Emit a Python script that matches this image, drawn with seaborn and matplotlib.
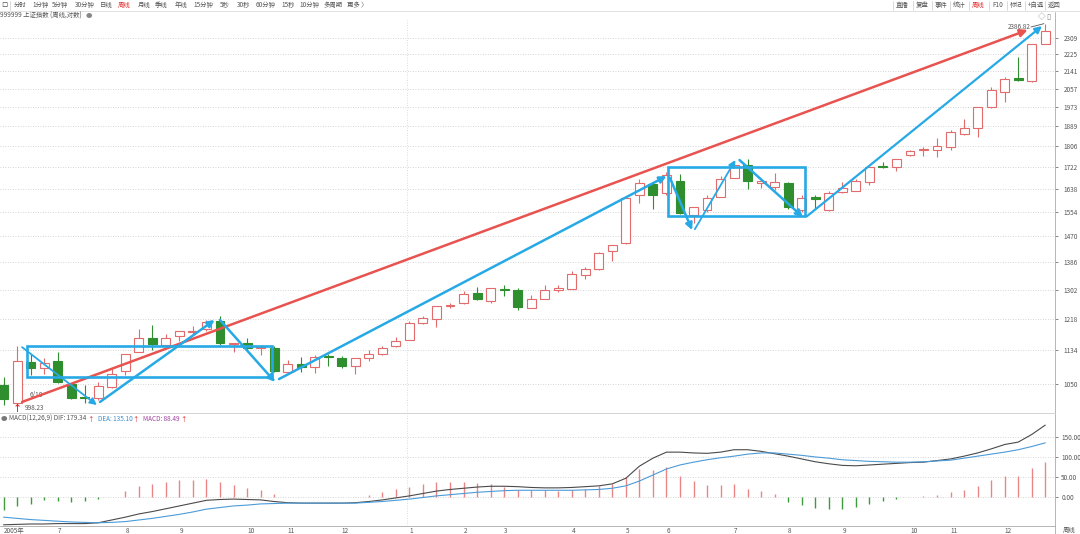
import matplotlib
matplotlib.use("Agg")
import matplotlib.pyplot as plt
from matplotlib.patches import Rectangle
from matplotlib.lines import Line2D
from matplotlib.ticker import NullLocator, FixedLocator
import numpy as np
import pandas as pd
import seaborn as sns

# weekly candles, 上证指数 (2005-06 .. 2006-12)
opens = [1048, 1005, 1105, 1088, 1106, 1050, 1020, 1018, 1043, 1081,
         1129, 1165, 1147, 1172, 1182, 1190, 1213, 1149, 1152, 1140,
         1141, 1079, 1099, 1091, 1119, 1115, 1094, 1113, 1125, 1144,
         1162, 1208, 1218, 1255, 1262, 1293, 1270, 1305, 1302, 1248,
         1273, 1302, 1305, 1346, 1365, 1422, 1448, 1615, 1656, 1622,
         1667, 1543, 1560, 1608, 1679, 1730, 1660, 1645, 1660, 1560,
         1606, 1560, 1626, 1630, 1663, 1726, 1722, 1769, 1790, 1790,
         1802, 1855, 1882, 1973, 2041, 2107, 2096, 2280]
highs = [1067, 1144, 1125, 1115, 1129, 1052, 1048, 1055, 1089, 1125,
         1191, 1201, 1177, 1185, 1198, 1216, 1226, 1154, 1165, 1147,
         1144, 1110, 1117, 1122, 1125, 1119, 1113, 1134, 1144, 1170,
         1213, 1226, 1254, 1262, 1298, 1309, 1306, 1316, 1306, 1285,
         1316, 1316, 1357, 1371, 1420, 1441, 1604, 1675, 1660, 1702,
         1694, 1571, 1615, 1686, 1737, 1753, 1667, 1698, 1663, 1615,
         1615, 1630, 1663, 1675, 1722, 1741, 1753, 1789, 1802, 1839,
         1873, 1920, 1973, 2065, 2112, 2212, 2276, 2386.82]
lows = [1000, 998.23, 1072, 1075, 1053, 1015, 1005, 1013, 1040, 1072,
        1129, 1134, 1142, 1157, 1175, 1186, 1147, 1129, 1134, 1122,
        1079, 1076, 1079, 1076, 1094, 1089, 1075, 1106, 1122, 1142,
        1160, 1205, 1195, 1249, 1260, 1272, 1263, 1282, 1242, 1248,
        1273, 1296, 1305, 1333, 1362, 1389, 1446, 1586, 1565, 1615,
        1548, 1515, 1553, 1606, 1677, 1637, 1640, 1634, 1565, 1553,
        1565, 1556, 1624, 1628, 1652, 1718, 1705, 1765, 1765, 1761,
        1790, 1851, 1843, 1971, 1996, 2095, 2090, 2276]
closes = [1015, 1106, 1088, 1102, 1055, 1017, 1018, 1045, 1074, 1125,
          1165, 1149, 1167, 1185, 1185, 1210, 1152, 1154, 1141, 1142,
          1081, 1099, 1091, 1117, 1117, 1094, 1113, 1125, 1141, 1159,
          1208, 1221, 1254, 1257, 1290, 1275, 1306, 1302, 1251, 1273,
          1302, 1306, 1350, 1364, 1415, 1441, 1604, 1660, 1615, 1690,
          1550, 1571, 1604, 1675, 1730, 1667, 1667, 1663, 1571, 1604,
          1602, 1622, 1641, 1667, 1722, 1722, 1753, 1785, 1794, 1806,
          1864, 1882, 1973, 2051, 2103, 2097, 2276, 2345]

# MACD(12,26,9)
dif = [-69, -68, -67, -67, -66, -66, -66, -64, -57, -50,
       -42, -36, -29, -22, -15, -8, -6, -5, -6, -7,
       -11, -14, -15, -15, -15, -15, -14, -11, -7, -2,
       3, 9, 15, 19, 22, 25, 27, 27, 26, 24,
       23, 23, 24, 26, 28, 33, 47, 77, 97, 112,
       112, 110, 109, 112, 118, 118, 114, 108, 102, 95,
       88, 83, 79, 78, 80, 82, 84, 86, 87, 91,
       95, 102, 110, 120, 131, 137, 156, 179.34]
dea = [-50, -53, -56, -58, -60, -62, -63, -64, -63, -61,
       -57, -53, -48, -43, -37, -30, -26, -22, -20, -17,
       -16, -15, -15, -15, -15, -15, -15, -13, -11, -8,
       -5, -1, 3, 6, 9, 12, 14, 16, 17, 17,
       17, 17, 17, 18, 19, 22, 28, 40, 55, 70,
       80, 87, 93, 98, 102, 107, 110, 110, 107, 104,
       100, 97, 93, 91, 89, 88, 87, 87, 88, 90,
       92, 97, 102, 107, 112, 118, 126, 135.10]
macd = [-32, -23, -17, -8, -9, -12, -10, -5, 1, 16,
        27, 33, 38, 43, 43, 46, 38, 31, 23, 18,
        8, 1, 0.5, 0, 0, 0.5, 1, 6, 12, 20,
        26, 33, 37, 38, 37, 35, 33, 24, 18, 18,
        17, 16, 18, 21, 27, 33, 50, 71, 68, 75,
        52, 41, 31, 31, 33, 20, 14, 7, -11, -19,
        -27, -30, -29, -25, -17, -9, -5, -1, 2, 6,
        12, 17, 27, 42, 53, 53, 73, 88.49]

month_labels = ["2005年", "7", "8", "9", "10", "11", "12", "1", "2", "3",
                "4", "5", "6", "7", "8", "9", "10", "11", "12"]
month_idx = [0, 4, 9, 13, 18, 21, 25, 30, 34, 37, 42, 46, 49, 54, 58, 62, 67, 70, 74]

price_ticks = [1050, 1134, 1218, 1302, 1386, 1470, 1554, 1638, 1722, 1806,
               1889, 1973, 2057, 2141, 2225, 2309]
macd_ticks = [0, 50, 100, 150]

# hand drawn marks on the chart (candle index, price)
red_trend = [(1.37, 1008), (75.7, 2352)]
blue_arrows = [((1.37, 1142), (6.9, 1001)),
               ((7.13, 1008), (15.6, 1215)),
               ((16.0, 1215), (20.07, 1055)),
               ((20.36, 1062), (49.0, 1686)),
               ((49.26, 1679), (50.9, 1491)),
               ((51.1, 1494), (54.1, 1749)),
               ((54.4, 1749), (59.09, 1536)),
               ((59.39, 1539), (76.76, 2373))]
blue_lw = [1.3, 1.8, 1.8, 1.8, 1.8, 1.3, 1.8, 1.6]
blue_boxes = [((1.74, 1067), (19.84, 1145)),
              ((49.1, 1539), (59.24, 1722))]

RED = "#e36b6b"
GREEN = "#2f8f2f"
BLUE = "#27a9e6"
RED_LINE = "#e8534f"
GRAY = "#555555"
FS = 4.6

sns.set_style("white")
plt.rcParams["font.family"] = ["Noto Sans CJK SC", "DejaVu Sans"]

W, H = 1080, 534
fig = plt.figure(figsize=(W / 100, H / 100), dpi=100)
renderer = fig.canvas.get_renderer()


def px_axes(x0, y0, x1, y1):
    return fig.add_axes([x0 / W, 1 - y1 / H, (x1 - x0) / W, (y1 - y0) / H])


def chain(items, x, y):
    # put texts one after another starting at pixel x
    for t, col, gap in items:
        txt = fig.text(x / W, 1 - y / H, t, fontsize=FS, color=col, va="center")
        bb = txt.get_window_extent(renderer=renderer)
        x = bb.x1 + gap


ax = px_axes(0, 20, 1055, 413)
ax2 = px_axes(0, 414, 1055, 526)

df = pd.DataFrame({"o": opens, "h": highs, "l": lows, "c": closes})
df["i"] = np.arange(len(df))
df["up"] = df["c"] >= df["o"]

# candles
for up, col in [(True, RED), (False, GREEN)]:
    d = df[df["up"] == up]
    ax.vlines(d["i"], d["l"], d["h"], color=col, lw=0.8, zorder=2)
    ax.bar(d["i"], (d["c"] - d["o"]).abs().clip(lower=0.5), bottom=d[["o", "c"]].min(axis=1),
           width=0.66, facecolor="white" if up else GREEN, edgecolor=col, lw=0.8, zorder=3)

ax.set_yscale("log")
ax.set_ylim(983, 2406)
ax.set_xlim(-0.26, 77.72)
ax.yaxis.tick_right()
ax.yaxis.set_major_locator(FixedLocator(price_ticks))
ax.yaxis.set_minor_locator(NullLocator())
ax.set_yticklabels([str(t) for t in price_ticks])
ax.tick_params(axis="y", labelsize=FS, colors=GRAY, length=2, pad=4, width=0.5)
ax.set_xticks([])
ax.grid(axis="y", ls=(0, (1, 2)), color="#c8c8c8", lw=0.6)
ax.axvline(29.8, ls=(0, (1, 2)), color="#d0d0d0", lw=0.6, zorder=0)
for s in ["top", "left"]:
    ax.spines[s].set_visible(False)
ax.spines["right"].set_color("#aaaaaa")
ax.spines["bottom"].set_color("#cccccc")
ax.spines["right"].set_linewidth(0.6)
ax.spines["bottom"].set_linewidth(0.6)

# trend lines / boxes
ax.annotate("", xy=red_trend[1], xytext=red_trend[0],
            arrowprops=dict(arrowstyle="-|>", color=RED_LINE, lw=1.8, mutation_scale=11,
                            shrinkA=0, shrinkB=0), zorder=5)
for ((x0, y0), (x1, y1)), lw in zip(blue_arrows, blue_lw):
    ax.annotate("", xy=(x1, y1), xytext=(x0, y0),
                arrowprops=dict(arrowstyle="-|>", color=BLUE, lw=lw, mutation_scale=10,
                                shrinkA=0, shrinkB=0), zorder=5)
for (x0, y0), (x1, y1) in blue_boxes:
    ax.add_patch(Rectangle((x0, y0), x1 - x0, y1 - y0, fill=False, ec=BLUE, lw=1.9, zorder=5))

ax.text(1.96, 1024, "6/10", fontsize=FS, color=GRAY, va="center")
ax.text(1.0, 993, "↑", fontsize=6.5, color="#e02020", ha="center", va="center", fontweight="bold")
ax.text(1.6, 995, "998.23", fontsize=FS, color=GRAY, va="center")
ax.text(75.9, 2366, "2386.82", fontsize=FS, color=GRAY, va="center", ha="right")
ax.plot([75.95, 76.9], [2368, 2386], color=GRAY, lw=0.6)

# MACD panel
idx = np.arange(len(macd))
m = np.array(macd)
ax2.vlines(idx[m >= 0], 0, m[m >= 0], color="#e98585", lw=1.0)
ax2.vlines(idx[m < 0], 0, m[m < 0], color="#3d9a3d", lw=1.0)
sns.lineplot(x=idx, y=dif, ax=ax2, color="#4a4a4a", lw=0.8)
sns.lineplot(x=idx, y=dea, ax=ax2, color="#4b9bd8", lw=0.8)
ax2.set_ylim(-72, 207)
ax2.set_xlim(-0.26, 77.72)
ax2.yaxis.tick_right()
ax2.set_yticks(macd_ticks)
ax2.set_yticklabels(["%.2f" % t for t in macd_ticks])
ax2.tick_params(axis="y", labelsize=FS, colors=GRAY, length=2, pad=2.5, width=0.5)
ax2.set_xticks(month_idx)
ax2.set_xticklabels(month_labels, ha="left")
ax2.tick_params(axis="x", labelsize=FS, colors=GRAY, length=0, pad=1, width=0.5)
ax2.grid(axis="y", ls=(0, (1, 2)), color="#c8c8c8", lw=0.6)
ax2.axvline(29.8, ls=(0, (1, 2)), color="#d0d0d0", lw=0.6, zorder=0)
for s in ["top", "left"]:
    ax2.spines[s].set_visible(False)
for s in ["right", "bottom"]:
    ax2.spines[s].set_color("#aaaaaa")
    ax2.spines[s].set_linewidth(0.6)
ax2.set_xlabel("")
ax2.set_ylabel("")

fig.add_artist(Line2D([1055 / W, 1055 / W], [1 - 12 / H, 1 - 20 / H], color="#aaaaaa", lw=0.6))
fig.add_artist(Line2D([1055 / W, 1055 / W], [0, 1 - 526 / H], color="#aaaaaa", lw=0.6))
fig.text(1063 / W, 1 - 530 / H, "周线", fontsize=FS, color=GRAY, va="center")

# MACD header
chain([("●", "#777777", 2), ("MACD(12,26,9) DIF: 179.34", GRAY, 0.5), ("↑", "#e02020", 4),
       ("DEA: 135.10", "#3a8fd0", 0.5), ("↑", "#e02020", 4),
       ("MACD: 88.49", "#a040a0", 0.5), ("↑", "#e02020", 0)], 1, 419)

# toolbar
fig.add_artist(Line2D([0, 1], [1 - 11 / H, 1 - 11 / H], color="#dddddd", lw=0.6))
fig.text(1 / W, 1 - 5 / H, "口", fontsize=FS, color=GRAY, va="center")
fig.add_artist(Line2D([10 / W, 10 / W], [1 - 1 / H, 1 - 10 / H], color="#cccccc", lw=0.5))
left_items = [("分时", 14), ("1分钟", 32), ("5分钟", 52), ("30分钟", 75), ("日线", 100),
              ("周线", 118), ("月线", 138), ("季线", 155), ("年线", 175), ("15分钟", 193),
              ("5秒", 220), ("30秒", 237), ("60分钟", 256), ("15秒", 281), ("10分钟", 299),
              ("多周期", 324), ("更多 〉", 347)]
for t, x in left_items:
    fig.text(x / W, 1 - 5 / H, t, fontsize=FS, color="#e03030" if t == "周线" else GRAY, va="center")
right_items = [("直播", 896), ("复盘", 916), ("事件", 935), ("统计", 953), ("周线", 972),
               ("F10", 992), ("标记", 1010), ("+自选", 1028), ("返回", 1048)]
for t, x in right_items:
    fig.text(x / W, 1 - 5 / H, t, fontsize=FS, color="#e03030" if t == "周线" else GRAY, va="center")
    fig.add_artist(Line2D([(x - 3) / W, (x - 3) / W], [1 - 1 / H, 1 - 10 / H], color="#cccccc", lw=0.5))
chain([("999999 上证指数 (周线,对数)", GRAY, 4), ("●", "#888888", 0)], 0, 16)
fig.text(1038 / W, 1 - 17 / H, "◇", fontsize=5.5, color="#888888", va="center")
fig.text(1046 / W, 1 - 17 / H, "▯", fontsize=5.5, color="#888888", va="center")

fig.savefig("out.png", dpi=100, facecolor="white")
